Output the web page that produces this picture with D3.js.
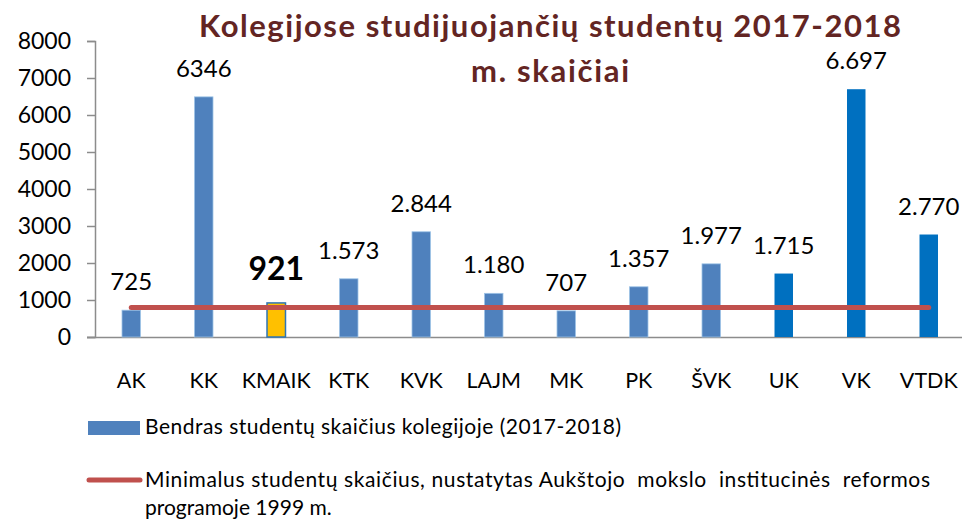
<!DOCTYPE html>
<html>
<head>
<meta charset="utf-8">
<script src="https://cdn.jsdelivr.net/npm/d3@7"></script>
<style>
  body { margin: 0; background: #fff; }
  svg { display: block; font-family: Lato, "Open Sans", sans-serif; }
</style>
</head>
<body>
<div id="chart"></div>
<script>
const categories = ['AK', 'KK', 'KMAIK', 'KTK', 'KVK', 'LAJM', 'MK', 'PK', 'ŠVK', 'UK', 'VK', 'VTDK'];
// bar heights as drawn (KK bar is drawn taller than its label says)
const students = [725, 6490, 921, 1573, 2844, 1180, 707, 1357, 1977, 1715, 6697, 2770];
const valueLabels = ['725', '6346', '921', '1.573', '2.844', '1.180', '707', '1.357', '1.977', '1.715', '6.697', '2.770'];
const minimumStudents = [800, 800, 800, 800, 800, 800, 800, 800, 800, 800, 800, 800];
const yTicks = [0, 1000, 2000, 3000, 4000, 5000, 6000, 7000, 8000];
const titleLines = ['Kolegijose studijuojančių studentų 2017-2018', 'm. skaičiai'];
const legendBars = 'Bendras studentų skaičius kolegijoje (2017-2018)';
const legendLine = ['Minimalus studentų skaičius, nustatytas Aukštojo  mokslo  institucinės  reformos', 'programoje 1999 m.'];

const width = 962, height = 520;

const svg = d3.select('#chart')
  .append('svg')
  .attr('width', width)
  .attr('height', height);

// Scales
const x = d3.scaleBand()
  .domain(categories)
  .range([95, 965])
  .paddingInner(0.745)
  .paddingOuter(0.3725);

const y = d3.scaleLinear()
  .domain([0, 8000])
  .range([337, 41]);

const barColor = (d, i) => {
  if (categories[i] === 'KMAIK') return '#FFC000';
  if (i >= 9) return '#0070C0';
  return '#4F81BD';
};

// Title
svg.append('g')
  .selectAll('text')
  .data(titleLines)
  .join('text')
  .attr('x', 550)
  .attr('y', (d, i) => 37 + i * 45)
  .attr('text-anchor', 'middle')
  .attr('fill', '#632523')
  .style('font-size', '31px')
  .style('font-weight', '700')
  .attr('textLength', (d, i) => i === 0 ? 702 : 158)
  .attr('lengthAdjust', 'spacing')
  .text(d => d);

// Y axis
const yAxis = svg.append('g')
  .attr('transform', 'translate(95,0)')
  .call(d3.axisLeft(y).tickValues(yTicks).tickSize(8).tickPadding(16).tickFormat(d3.format('d')));
yAxis.selectAll('text')
  .style('font-size', '23px')
  .style('font-family', 'Lato, sans-serif')
  .attr('fill', '#000');

// X axis
const xAxis = svg.append('g')
  .attr('transform', 'translate(0,337)')
  .call(d3.axisBottom(x).tickSize(0).tickPadding(36).tickSizeOuter(0));
xAxis.select('.domain').attr('d', 'M87,0.5H962');
xAxis.selectAll('text')
  .style('font-size', '21.5px')
  .style('font-family', 'Lato, sans-serif')
  .attr('fill', '#000');

svg.selectAll('.domain, .tick line')
  .attr('stroke', '#8c8c8c')
  .attr('stroke-width', 1.5);

// Bars
svg.append('g')
  .selectAll('rect')
  .data(students)
  .join('rect')
  .attr('x', (d, i) => x(categories[i]))
  .attr('width', x.bandwidth())
  .attr('y', d => y(d))
  .attr('height', d => y(0) - y(d))
  .attr('fill', barColor)
  .attr('stroke', (d, i) => categories[i] === 'KMAIK' ? '#2E75B6' : (i < 9 ? '#9DC3E6' : 'none'))
  .attr('stroke-width', (d, i) => categories[i] === 'KMAIK' ? 1.5 : 0.8);

// Minimum line
const line = d3.line()
  .x((d, i) => x(categories[i]) + x.bandwidth() / 2)
  .y(d => y(d));

svg.append('path')
  .datum(minimumStudents)
  .attr('d', line)
  .attr('fill', 'none')
  .attr('stroke', '#C0504D')
  .attr('stroke-width', 5)
  .attr('stroke-linecap', 'round');

// Value labels
svg.append('g')
  .selectAll('text')
  .data(valueLabels)
  .join('text')
  .attr('x', (d, i) => x(categories[i]) + x.bandwidth() / 2)
  .attr('y', (d, i) => y(students[i]) - (categories[i] === 'KMAIK' ? 23 : 20))
  .attr('text-anchor', 'middle')
  .attr('fill', '#000')
  .style('font-size', (d, i) => categories[i] === 'KMAIK' ? '32px' : '24px')
  .style('font-weight', (d, i) => categories[i] === 'KMAIK' ? '700' : '400')
  .text(d => d);

// Legend
const legend = svg.append('g');
legend.append('rect')
  .attr('x', 88).attr('y', 421)
  .attr('width', 52).attr('height', 14)
  .attr('fill', '#4F81BD');
legend.append('text')
  .attr('x', 145).attr('y', 434)
  .style('font-size', '21px')
  .attr('textLength', 476)
  .attr('lengthAdjust', 'spacing')
  .text(legendBars);

legend.append('line')
  .attr('x1', 89).attr('x2', 140)
  .attr('y1', 480).attr('y2', 480)
  .attr('stroke', '#C0504D')
  .attr('stroke-width', 5)
  .attr('stroke-linecap', 'round');
legend.selectAll('text.l2')
  .data(legendLine)
  .join('text')
  .attr('class', 'l2')
  .attr('x', 145)
  .attr('y', (d, i) => 487 + i * 28)
  .style('font-size', '21px')
  .style('white-space', 'pre')
  .attr('textLength', (d, i) => i === 0 ? 785 : null)
  .attr('lengthAdjust', 'spacing')
  .text(d => d);
</script>
</body>
</html>
